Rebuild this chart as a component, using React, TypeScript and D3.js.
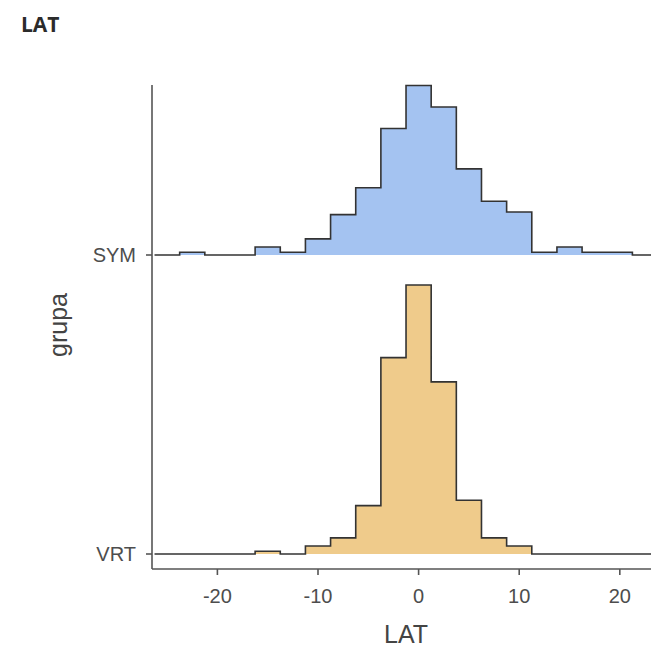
import * as d3 from "d3";

// histogram bins (centre of each 2.5-wide bin)
const binCenters = [-25, -22.5, -20, -17.5, -15, -12.5, -10, -7.5, -5, -2.5, 0, 2.5, 5, 7.5, 10, 12.5, 15, 17.5, 20, 22.5];
const binWidth = 2.5;

const groups = ["SYM", "VRT"];
const symCounts = [0, 1, 0, 0, 3, 1, 6, 15, 25, 47, 63, 55, 32, 20, 16, 1, 3, 1, 1, 0];
const vrtCounts = [0, 0, 0, 0, 1, 0, 3, 6, 18, 73, 100, 64, 20, 6, 3, 0, 0, 0, 0, 0];
const groupFills = ["#a4c3f1", "#efcb8b"];

const xTicks = [-20, -10, 0, 10, 20];

export default function App() {
  const width = 651;
  const height = 649;
  const panelLeft = 152;
  const panelRight = 651;
  const axisY = 569;

  const x = d3.scaleLinear().domain([-26.5, 23.1]).range([panelLeft, panelRight]);
  // ridge baselines
  const y = d3.scalePoint<string>().domain(groups).range([255, 554]);
  const h = d3.scaleLinear().domain([0, 100]).range([0, 269]);

  const series = [symCounts, vrtCounts];

  const stepPoints = (counts: number[]) => {
    const pts: [number, number][] = [];
    binCenters.forEach((c, i) => {
      pts.push([c - binWidth / 2, counts[i]]);
      pts.push([c + binWidth / 2, counts[i]]);
    });
    return pts;
  };

  const font = "'Liberation Sans', Arial, sans-serif";

  return (
    <svg width={width} height={height} style={{ position: "absolute", left: 0, top: 0, background: "#fff" }}>
      <defs>
        <clipPath id="panel-clip">
          <rect x={panelLeft} y={0} width={panelRight - panelLeft} height={axisY} />
        </clipPath>
      </defs>

      <text x={21} y={32} fontFamily="'Open Sans', sans-serif" fontWeight="bold" fontSize={21} fill="#2b2b2b">LAT</text>

      <g clipPath="url(#panel-clip)">
        {groups.map((g, gi) => {
          const base = y(g)!;
          const pts = stepPoints(series[gi]);
          const area = d3.area<[number, number]>()
            .x(d => x(d[0]))
            .y0(base)
            .y1(d => base - h(d[1]));
          const line = d3.line<[number, number]>()
            .x(d => x(d[0]))
            .y(d => base - h(d[1]));
          return (
            <g key={g}>
              <path d={area(pts)!} fill={groupFills[gi]} />
              <path d={line(pts)!} fill="none" stroke="#333" strokeWidth={1.6} />
            </g>
          );
        })}
      </g>

      {/* y axis */}
      <line x1={panelLeft} x2={panelLeft} y1={85} y2={axisY} stroke="#555" strokeWidth={1.6} />
      {groups.map(g => (
        <g key={g} transform={`translate(0,${y(g)})`}>
          <line x1={panelLeft - 6} x2={panelLeft} stroke="#555" strokeWidth={1.6} />
          <text x={panelLeft - 16} dy="0.35em" textAnchor="end" fontFamily={font} fontSize={20} fill="#4d4d4d">{g}</text>
        </g>
      ))}

      {/* x axis */}
      <line x1={panelLeft} x2={panelRight} y1={axisY} y2={axisY} stroke="#555" strokeWidth={1.6} />
      {xTicks.map(t => (
        <g key={t} transform={`translate(${x(t)},${axisY})`}>
          <line y1={0} y2={6} stroke="#555" strokeWidth={1.6} />
          <text y={34} textAnchor="middle" fontFamily={font} fontSize={20} fill="#4d4d4d">{t}</text>
        </g>
      ))}

      <text x={406} y={643} textAnchor="middle" fontFamily={font} fontSize={25} fill="#444">LAT</text>
      <text transform="translate(67,325) rotate(-90)" textAnchor="middle" fontFamily={font} fontSize={25} fill="#444">grupa</text>
    </svg>
  );
}
